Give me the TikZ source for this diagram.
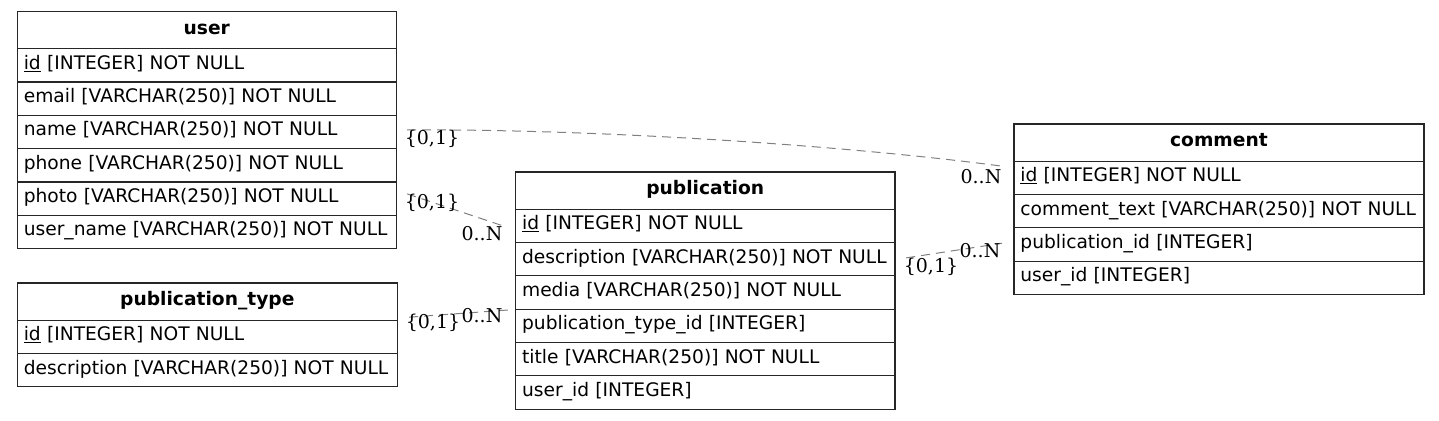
\documentclass[tikz,border=0pt]{standalone}
\usepackage{fontspec}
\setmainfont{DejaVu Sans}
\newfontfamily\labfont{DejaVu Serif}
\usetikzlibrary{calc}
\newcommand{\ertable}[6]{%
  \node[tablehead, text width=#4] (#1-h) at (#2,#3) {\bfseries #5};
  \foreach \r [count=\i] in {#6} {
    \node[tablerow, text width=#4] (#1-\i) at (#2, #3+37.3+\i*33.33-33.33) {\r};
  }
}
\begin{document}
\begin{tikzpicture}[x=1pt,y=-1pt,
  font=\fontsize{18.65}{22}\selectfont,
  tablehead/.style={draw=black!85, line width=1.2pt, anchor=north west, inner xsep=6.5pt, inner ysep=0pt,
    minimum height=37.3pt, text height=22.8pt, text depth=14.5pt, align=center},
  tablerow/.style={draw=black!85, line width=1.2pt, anchor=north west, inner xsep=6.5pt, inner ysep=0pt,
    minimum height=33.33pt, text height=20.6pt, text depth=12.73pt, align=left},
  rel/.style={draw=black!50, line width=1pt, dash pattern=on 9pt off 6pt},
  card/.style={font=\labfont\fontsize{19}{22}\selectfont, inner sep=0pt}]
\useasboundingbox (0,0) rectangle (1439,420);
\ertable{user}{16.7}{10.7}{366pt}{user}{\underline{id} [INTEGER] NOT NULL, email [VARCHAR(250)] NOT NULL, name [VARCHAR(250)] NOT NULL, phone [VARCHAR(250)] NOT NULL, photo [VARCHAR(250)] NOT NULL, user\_name [VARCHAR(250)] NOT NULL}
\ertable{ptype}{16.7}{282.3}{367pt}{publication\_type}{\underline{id} [INTEGER] NOT NULL, description [VARCHAR(250)] NOT NULL}
\ertable{pub}{515}{171.3}{366.3pt}{publication}{\underline{id} [INTEGER] NOT NULL, description [VARCHAR(250)] NOT NULL, media [VARCHAR(250)] NOT NULL, publication\_type\_id [INTEGER], title [VARCHAR(250)] NOT NULL, user\_id [INTEGER]}
\ertable{comment}{1013.3}{123.3}{397pt}{comment}{\underline{id} [INTEGER] NOT NULL, comment\_text [VARCHAR(250)] NOT NULL, publication\_id [INTEGER], user\_id [INTEGER]}
% relations
\draw[rel] ($(user-3.east)+(10.3,-2)$) .. controls ($(user-3.east)+(204,-3)$) and ($(comment-1.west)+(-163,-32)$) .. ($(comment-1.west)+(-11.3,-11.7)$);
\draw[rel] ($(user-5.east)+(10.3,-4.7)$) -- ($(pub-1.west)+(-12,0)$);
\draw[rel] ($(pub-2.east)+(10.7,-1.3)$) -- ($(comment-3.west)+(-11.3,-1.3)$);
\draw[rel] ($(ptype-1.east)+(11.3,-19.7)$) -- ($(pub-4.west)+(-5,-16)$);
% cardinalities
\node[card] (c1a) at (432,139) {\{0,1\}};
\node[card] (c1b) at (981,177) {0..N};
\node[card] (c2a) at (432,203) {\{0,1\}};
\node[card] (c2b) at (482,234) {0..N};
\node[card] (c3a) at (931,267) {\{0,1\}};
\node[card] (c3b) at (980,251) {0..N};
\node[card] (c4a) at (433,323) {\{0,1\}};
\node[card] (c4b) at (482,316) {0..N};
\end{tikzpicture}
\end{document}
